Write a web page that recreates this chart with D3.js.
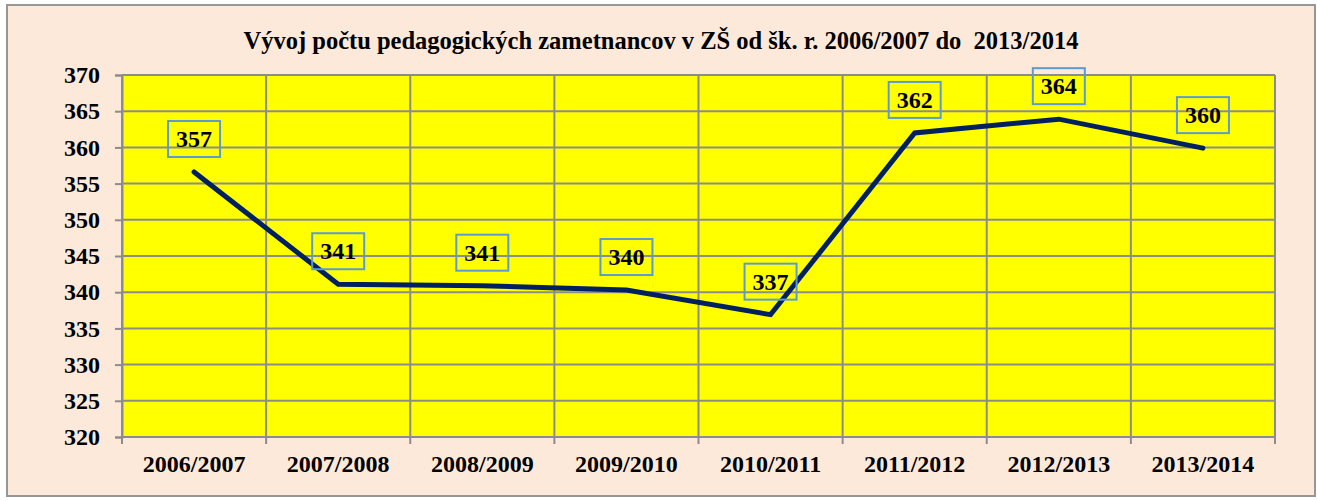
<!DOCTYPE html>
<html>
<head>
<meta charset="utf-8">
<script src="https://cdn.jsdelivr.net/npm/d3@7"></script>
<style>
  body { margin: 0; background: #ffffff; }
  svg text { font-family: "Liberation Serif", "Times New Roman", serif; font-weight: bold; fill: #000; }
</style>
</head>
<body>
<script>
//chart data
var title = "Vývoj počtu pedagogických zametnancov v ZŠ od šk. r. 2006/2007 do\u00a0 2013/2014";
var years = ["2006/2007", "2007/2008", "2008/2009", "2009/2010", "2010/2011", "2011/2012", "2012/2013", "2013/2014"];
var teachers = [356.6, 341.1, 340.9, 340.3, 336.9, 362.0, 363.9, 359.9];
var labels = ["357", "341", "341", "340", "337", "362", "364", "360"];
var yTicks = [320, 325, 330, 335, 340, 345, 350, 355, 360, 365, 370];

window.onload = drawChart();

function drawChart(){
    var width = 1317,
        height = 501;

    var svg = d3.select("body")
        .append("svg")
        .attr("width", width)
        .attr("height", height);

    //outer chart area
    svg.append("rect")
        .attr("x", 7).attr("y", 5)
        .attr("width", 1308).attr("height", 491)
        .attr("fill", "#FDE9D9")
        .attr("stroke", "#969696")
        .attr("stroke-width", 2);

    var plot = {left: 122, top: 75, right: 1275, bottom: 437};

    var x = d3.scaleBand()
        .domain(years)
        .range([plot.left, plot.right]);

    var y = d3.scaleLinear()
        .domain([320, 370])
        .range([plot.bottom, plot.top]);

    //plot area
    svg.append("rect")
        .attr("x", plot.left).attr("y", plot.top)
        .attr("width", plot.right - plot.left)
        .attr("height", plot.bottom - plot.top)
        .attr("fill", "#FFFF00");

    //horizontal gridlines
    svg.selectAll(".hgrid")
        .data(yTicks)
        .enter()
        .append("line")
        .attr("class", "hgrid")
        .attr("x1", plot.left).attr("x2", plot.right)
        .attr("y1", function(d){ return y(d); })
        .attr("y2", function(d){ return y(d); })
        .attr("stroke", "#8c8c8c")
        .attr("stroke-width", 2);

    //vertical gridlines at category edges
    var edges = years.map(function(d){ return x(d); }).concat([plot.right]);
    svg.selectAll(".vgrid")
        .data(edges)
        .enter()
        .append("line")
        .attr("class", "vgrid")
        .attr("x1", function(d){ return d; })
        .attr("x2", function(d){ return d; })
        .attr("y1", plot.top).attr("y2", plot.bottom)
        .attr("stroke", "#8c8c8c")
        .attr("stroke-width", 2);

    //y axis
    var yAxis = svg.append("g")
        .attr("transform", "translate(" + plot.left + ",0)")
        .call(d3.axisLeft(y).tickValues(yTicks).tickSize(7).tickPadding(15));
    yAxis.select(".domain").attr("stroke", "#8c8c8c").attr("stroke-width", 2);
    yAxis.selectAll(".tick line").attr("stroke", "#8c8c8c").attr("stroke-width", 2);
    yAxis.selectAll("text")
        .style("font-size", "24px")
        .style("font-family", "Liberation Serif, serif")
        .style("font-weight", "bold")
        .attr("fill", "#000");

    //x axis, ticks on the category edges
    var xAxis = svg.append("g")
        .attr("transform", "translate(0," + plot.bottom + ")");
    xAxis.append("line")
        .attr("x1", plot.left).attr("x2", plot.right)
        .attr("stroke", "#8c8c8c").attr("stroke-width", 2);
    xAxis.selectAll(".xtick")
        .data(edges)
        .enter()
        .append("line")
        .attr("x1", function(d){ return d; })
        .attr("x2", function(d){ return d; })
        .attr("y1", 0).attr("y2", 7)
        .attr("stroke", "#8c8c8c").attr("stroke-width", 2);
    xAxis.selectAll(".xlabel")
        .data(years)
        .enter()
        .append("text")
        .attr("x", function(d){ return x(d) + x.bandwidth() / 2; })
        .attr("y", 35)
        .attr("text-anchor", "middle")
        .style("font-size", "24px")
        .text(function(d){ return d; });

    //line
    var line = d3.line()
        .x(function(d, i){ return x(years[i]) + x.bandwidth() / 2; })
        .y(function(d){ return y(d); });

    svg.append("path")
        .datum(teachers)
        .attr("d", line)
        .attr("fill", "none")
        .attr("stroke", "#002060")
        .attr("stroke-width", 5)
        .attr("stroke-linecap", "round")
        .attr("stroke-linejoin", "miter");

    //value labels in boxes
    var lab = svg.selectAll(".lab")
        .data(teachers)
        .enter()
        .append("g")
        .attr("class", "lab")
        .attr("transform", function(d, i){
            return "translate(" + (x(years[i]) + x.bandwidth() / 2) + "," + (y(d) - 33) + ")";
        });
    lab.append("rect")
        .attr("x", -26).attr("y", -18)
        .attr("width", 52).attr("height", 36)
        .attr("fill", "none")
        .attr("stroke", "#5B9BD5")
        .attr("stroke-width", 2);
    lab.append("text")
        .attr("y", 8)
        .attr("text-anchor", "middle")
        .style("font-size", "24px")
        .text(function(d, i){ return labels[i]; });

    //title
    svg.append("text")
        .attr("x", 661)
        .attr("y", 49)
        .attr("text-anchor", "middle")
        .style("font-size", "24.5px")
        .text(title);
};
</script>
</body>
</html>
